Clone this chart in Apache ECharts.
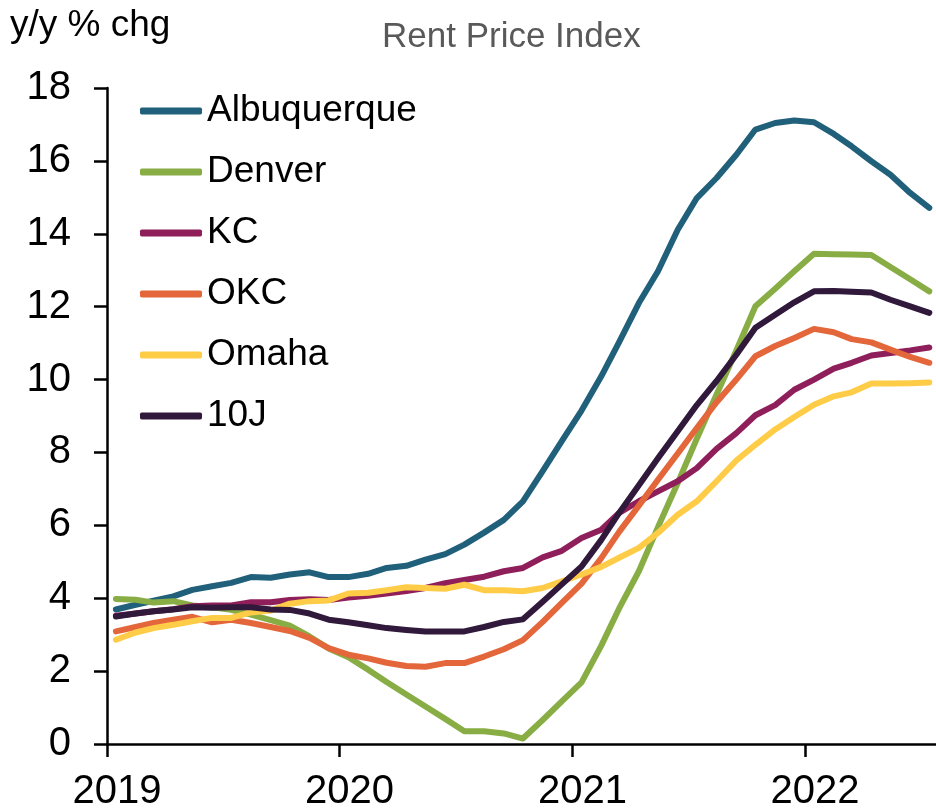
<!DOCTYPE html>
<html>
<head>
<meta charset="utf-8">
<script src="https://cdn.jsdelivr.net/npm/echarts@6/dist/echarts.min.js"></script>
<style>html,body{margin:0;padding:0;background:#fff;}#c{width:936px;height:812px;}</style>
</head>
<body>
<div id="c"></div>
<script>
// Monthly observations (plotted mid-month), Jan 2019 - Jul 2022
var months = [
  '2019-01-15','2019-02-15','2019-03-15','2019-04-15','2019-05-15','2019-06-15','2019-07-15','2019-08-15','2019-09-15','2019-10-15','2019-11-15','2019-12-15',
  '2020-01-15','2020-02-15','2020-03-15','2020-04-15','2020-05-15','2020-06-15','2020-07-15','2020-08-15','2020-09-15','2020-10-15','2020-11-15','2020-12-15',
  '2021-01-15','2021-02-15','2021-03-15','2021-04-15','2021-05-15','2021-06-15','2021-07-15','2021-08-15','2021-09-15','2021-10-15','2021-11-15','2021-12-15',
  '2022-01-15','2022-02-15','2022-03-15','2022-04-15','2022-05-15','2022-06-15','2022-07-15'
];
var albuquerque = [3.69,3.82,3.93,4.05,4.23,4.33,4.42,4.58,4.56,4.65,4.71,4.58,4.58,4.67,4.83,4.89,5.06,5.21,5.47,5.80,6.15,6.66,7.49,8.31,9.15,10.09,11.03,12.10,12.97,14.11,14.98,15.53,16.17,16.86,17.04,17.11,17.06,16.74,16.40,15.99,15.62,15.12,14.71];
var denver = [3.98,3.96,3.88,3.92,3.80,3.75,3.68,3.55,3.40,3.25,2.95,2.62,2.38,2.04,1.70,1.36,1.03,0.69,0.35,0.35,0.29,0.15,0.66,1.17,1.69,2.70,3.72,4.74,5.95,7.16,8.38,9.59,10.80,12.01,12.49,12.97,13.45,13.44,13.43,13.42,13.09,12.75,12.42];
var kc = [3.52,3.58,3.64,3.70,3.78,3.80,3.80,3.89,3.89,3.95,3.97,3.95,4.02,4.07,4.13,4.20,4.28,4.41,4.50,4.59,4.74,4.83,5.12,5.30,5.65,5.88,6.34,6.66,6.93,7.21,7.57,8.10,8.53,9.02,9.30,9.72,10.00,10.30,10.46,10.66,10.73,10.80,10.88];
var okc = [3.09,3.21,3.32,3.41,3.49,3.34,3.41,3.32,3.21,3.10,2.91,2.63,2.45,2.35,2.23,2.14,2.12,2.22,2.22,2.40,2.60,2.85,3.35,3.87,4.40,5.10,5.82,6.54,7.25,7.97,8.67,9.38,10.00,10.64,10.92,11.14,11.39,11.30,11.11,11.02,10.82,10.62,10.46];
var omaha = [2.86,3.06,3.18,3.27,3.37,3.46,3.46,3.61,3.66,3.85,3.92,3.94,4.13,4.15,4.22,4.30,4.28,4.26,4.37,4.22,4.22,4.19,4.28,4.46,4.65,4.86,5.11,5.38,5.79,6.29,6.66,7.21,7.78,8.21,8.63,8.97,9.31,9.54,9.65,9.89,9.89,9.90,9.92];
var tenJ = [3.50,3.58,3.64,3.69,3.75,3.74,3.75,3.75,3.69,3.68,3.58,3.41,3.34,3.26,3.18,3.13,3.09,3.09,3.09,3.21,3.35,3.42,3.90,4.38,4.87,5.60,6.34,7.10,7.84,8.58,9.30,9.96,10.68,11.42,11.78,12.12,12.42,12.43,12.41,12.39,12.19,12.01,11.83];

var seriesNames = ['Albuquerque','Denver','KC','OKC','Omaha','10J'];
var seriesValues = [albuquerque, denver, kc, okc, omaha, tenJ];
var seriesColors = ['#20607B','#88AD44','#8F1F5A','#E3673B','#FFCC47','#30193B'];

var yMin = 0, yMax = 18, yStep = 2;
var xMin = '2019-01-01', xMax = '2022-07-25 12:00';

var font = '"Liberation Sans", Arial, sans-serif';
var chart = echarts.init(document.getElementById('c'), null, {renderer: 'canvas'});

var series = seriesNames.map(function (name, k) {
  return {
    name: name,
    type: 'line',
    showSymbol: false,
    symbol: 'none',
    smooth: false,
    z: 2 + k,
    lineStyle: {color: seriesColors[k], width: 6, cap: 'round', join: 'round'},
    itemStyle: {color: seriesColors[k]},
    data: months.map(function (m, i) { return [m, seriesValues[k][i]]; })
  };
});

chart.setOption({
  animation: false,
  backgroundColor: '#ffffff',
  graphic: [
    {type: 'text', left: 10, top: 7, style: {text: 'y/y % chg', font: '37px ' + font, fill: '#000'}},
    {type: 'text', left: 382, top: 20, style: {text: 'Rent Price Index', font: '35px ' + font, fill: '#595959'}}
  ],
  grid: {left: 107, right: 0, top: 88, bottom: 68, containLabel: false},
  legend: {
    data: seriesNames,
    orient: 'vertical',
    left: 140,
    top: 91,
    padding: 0,
    itemWidth: 62,
    itemHeight: 7,
    itemGap: 21,
    icon: 'roundRect',
    textStyle: {fontFamily: font, fontSize: 37, color: '#000', lineHeight: 40}
  },
  xAxis: {
    type: 'time',
    min: xMin,
    max: xMax,
    minInterval: 365 * 24 * 3600 * 1000,
    maxInterval: 366 * 24 * 3600 * 1000,
    splitLine: {show: false},
    axisLine: {lineStyle: {color: '#000', width: 2.5}},
    axisTick: {show: true, inside: false, length: 13, lineStyle: {color: '#000', width: 2.5}},
    axisLabel: {
      margin: 28,
      padding: [0, 0, 0, 20],
      fontFamily: font,
      fontSize: 40,
      color: '#000',
      showMaxLabel: false,
      hideOverlap: false,
      formatter: function (v) { return String(new Date(v).getFullYear()); }
    }
  },
  yAxis: {
    type: 'value',
    min: yMin,
    max: yMax,
    interval: yStep,
    splitLine: {show: false},
    axisLine: {show: true, lineStyle: {color: '#000', width: 2.5}},
    axisTick: {show: true, inside: false, length: 13, lineStyle: {color: '#000', width: 2.5}},
    axisLabel: {margin: 36, fontFamily: font, fontSize: 40, color: '#000'}
  },
  series: series
});
</script>
</body>
</html>
